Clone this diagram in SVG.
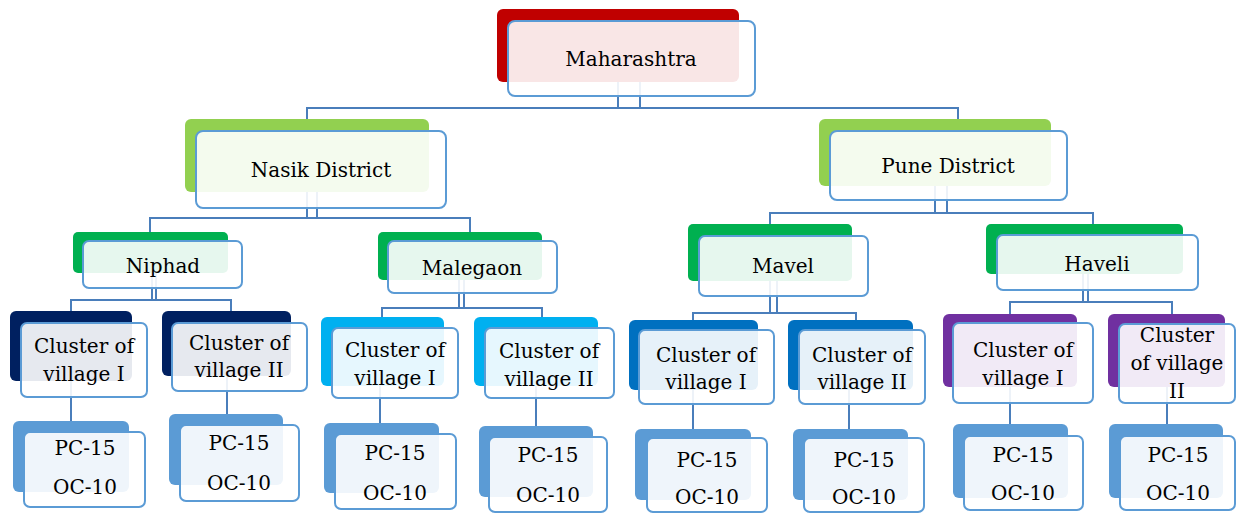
<svg xmlns="http://www.w3.org/2000/svg" width="1237" height="514" viewBox="0 0 1237 514">
<style>
.bg{stroke:none}
.red{fill:#C00000}.lg{fill:#92D050}.gr{fill:#00B050}.nv{fill:#002060}.lb{fill:#00B0F0}.bl{fill:#0070C0}.pu{fill:#7030A0}.pc{fill:#5B9BD5}
.fr{fill:#FFFFFF;fill-opacity:0.9;stroke:#5B9BD5;stroke-width:2}
.t{font-family:"DejaVu Serif","Liberation Serif",serif;font-size:20px;fill:#000;text-anchor:middle}
.c{fill:none;stroke:#4A7EBB;stroke-width:2}
</style>
<rect width="1237" height="514" fill="#FFFFFF"/>
<g id="connectors">
<path class="c" d="M618 82V108M640 82V108M307 119V108H958V119"/>
<path class="c" d="M307 192V218M317 192V218M150 232V218H470V232"/>
<path class="c" d="M935 186V213M947 186V213M770 224V213H1093V224"/>
<path class="c" d="M152 273V300M156 273V300M71 311V300H231V311"/>
<path class="c" d="M459 280V308M464 280V308M382 317V308H542V317"/>
<path class="c" d="M770 281V313M777 281V313M693 320V313H856V320"/>
<path class="c" d="M1083 274V302M1088 274V302M1010 314V302H1172V314"/>
<path class="c" d="M71 381V421M227 376V414M380 386V423M536 386V426M693 390V429M849 390V429M1010 387V424M1167 387V424"/>
</g>
<g id="maharashtra"><rect class="bg red" x="497" y="9" width="242" height="73" rx="6"/><rect class="fr" x="508" y="21" width="247" height="75" rx="7"/><text class="t" x="631" y="66">Maharashtra</text></g>
<g id="nasik"><rect class="bg lg" x="185" y="119" width="244" height="73" rx="6"/><rect class="fr" x="196" y="131" width="250" height="77" rx="7"/><text class="t" x="321" y="177">Nasik District</text></g>
<g id="pune"><rect class="bg lg" x="819" y="119" width="232" height="67" rx="6"/><rect class="fr" x="830" y="131" width="237" height="69" rx="7"/><text class="t" x="948" y="173">Pune District</text></g>
<g id="niphad"><rect class="bg gr" x="73" y="232" width="155" height="41" rx="5"/><rect class="fr" x="83" y="241" width="159" height="47" rx="6"/><text class="t" x="163" y="273">Niphad</text></g>
<g id="malegaon"><rect class="bg gr" x="378" y="232" width="164" height="48" rx="5"/><rect class="fr" x="388" y="241" width="169" height="52" rx="6"/><text class="t" x="472" y="275">Malegaon</text></g>
<g id="mavel"><rect class="bg gr" x="688" y="224" width="164" height="57" rx="5"/><rect class="fr" x="699" y="236" width="169" height="60" rx="6"/><text class="t" x="783" y="273">Mavel</text></g>
<g id="haveli"><rect class="bg gr" x="986" y="224" width="197" height="50" rx="5"/><rect class="fr" x="997" y="235" width="201" height="55" rx="6"/><text class="t" x="1097" y="271">Haveli</text></g>
<g id="niphad-c1"><rect class="bg nv" x="10" y="311" width="122" height="70" rx="6"/><rect class="fr" x="21" y="323" width="126" height="74" rx="6"/><text class="t" x="84" y="353">Cluster of</text><text class="t" x="84" y="381">village I</text></g>
<g id="niphad-c2"><rect class="bg nv" x="162" y="311" width="129" height="65" rx="6"/><rect class="fr" x="172" y="323" width="135" height="68" rx="6"/><text class="t" x="239" y="350">Cluster of</text><text class="t" x="239" y="377">village II</text></g>
<g id="malegaon-c1"><rect class="bg lb" x="321" y="317" width="123" height="69" rx="6"/><rect class="fr" x="332" y="328" width="126" height="70" rx="6"/><text class="t" x="395" y="357">Cluster of</text><text class="t" x="395" y="385">village I</text></g>
<g id="malegaon-c2"><rect class="bg lb" x="474" y="317" width="124" height="69" rx="6"/><rect class="fr" x="485" y="328" width="129" height="70" rx="6"/><text class="t" x="549" y="358">Cluster of</text><text class="t" x="549" y="386">village II</text></g>
<g id="mavel-c1"><rect class="bg bl" x="629" y="320" width="129" height="70" rx="6"/><rect class="fr" x="639" y="330" width="135" height="74" rx="6"/><text class="t" x="706" y="362">Cluster of</text><text class="t" x="706" y="389">village I</text></g>
<g id="mavel-c2"><rect class="bg bl" x="788" y="320" width="125" height="70" rx="6"/><rect class="fr" x="799" y="330" width="126" height="74" rx="6"/><text class="t" x="862" y="362">Cluster of</text><text class="t" x="862" y="389">village II</text></g>
<g id="haveli-c1"><rect class="bg pu" x="943" y="314" width="134" height="73" rx="6"/><rect class="fr" x="953" y="323" width="140" height="80" rx="6"/><text class="t" x="1023" y="357">Cluster of</text><text class="t" x="1023" y="385">village I</text></g>
<g id="haveli-c2"><rect class="bg pu" x="1108" y="314" width="117" height="73" rx="6"/><rect class="fr" x="1119" y="324" width="116" height="79" rx="6"/><text class="t" x="1177" y="342">Cluster</text><text class="t" x="1177" y="370">of village</text><text class="t" x="1177" y="398">II</text></g>
<g id="niphad-p1"><rect class="bg pc" x="13" y="421" width="116" height="71" rx="6"/><rect class="fr" x="24" y="432" width="121" height="75" rx="6"/><text class="t" x="85" y="455">PC-15</text><text class="t" x="85" y="494">OC-10</text></g>
<g id="niphad-p2"><rect class="bg pc" x="169" y="414" width="114" height="71" rx="6"/><rect class="fr" x="180" y="425" width="119" height="76" rx="6"/><text class="t" x="239" y="450">PC-15</text><text class="t" x="239" y="490">OC-10</text></g>
<g id="malegaon-p1"><rect class="bg pc" x="324" y="423" width="115" height="70" rx="6"/><rect class="fr" x="335" y="434" width="121" height="75" rx="6"/><text class="t" x="395" y="460">PC-15</text><text class="t" x="395" y="500">OC-10</text></g>
<g id="malegaon-p2"><rect class="bg pc" x="479" y="426" width="114" height="71" rx="6"/><rect class="fr" x="489" y="437" width="118" height="75" rx="6"/><text class="t" x="548" y="462">PC-15</text><text class="t" x="548" y="502">OC-10</text></g>
<g id="mavel-p1"><rect class="bg pc" x="635" y="429" width="116" height="71" rx="6"/><rect class="fr" x="647" y="438" width="120" height="74" rx="6"/><text class="t" x="707" y="467">PC-15</text><text class="t" x="707" y="504">OC-10</text></g>
<g id="mavel-p2"><rect class="bg pc" x="793" y="429" width="115" height="71" rx="6"/><rect class="fr" x="804" y="438" width="120" height="74" rx="6"/><text class="t" x="864" y="467">PC-15</text><text class="t" x="864" y="504">OC-10</text></g>
<g id="haveli-p1"><rect class="bg pc" x="953" y="424" width="115" height="74" rx="6"/><rect class="fr" x="964" y="436" width="119" height="74" rx="6"/><text class="t" x="1023" y="462">PC-15</text><text class="t" x="1023" y="500">OC-10</text></g>
<g id="haveli-p2"><rect class="bg pc" x="1109" y="424" width="114" height="74" rx="6"/><rect class="fr" x="1120" y="436" width="115" height="74" rx="6"/><text class="t" x="1178" y="462">PC-15</text><text class="t" x="1178" y="500">OC-10</text></g>
</svg>
